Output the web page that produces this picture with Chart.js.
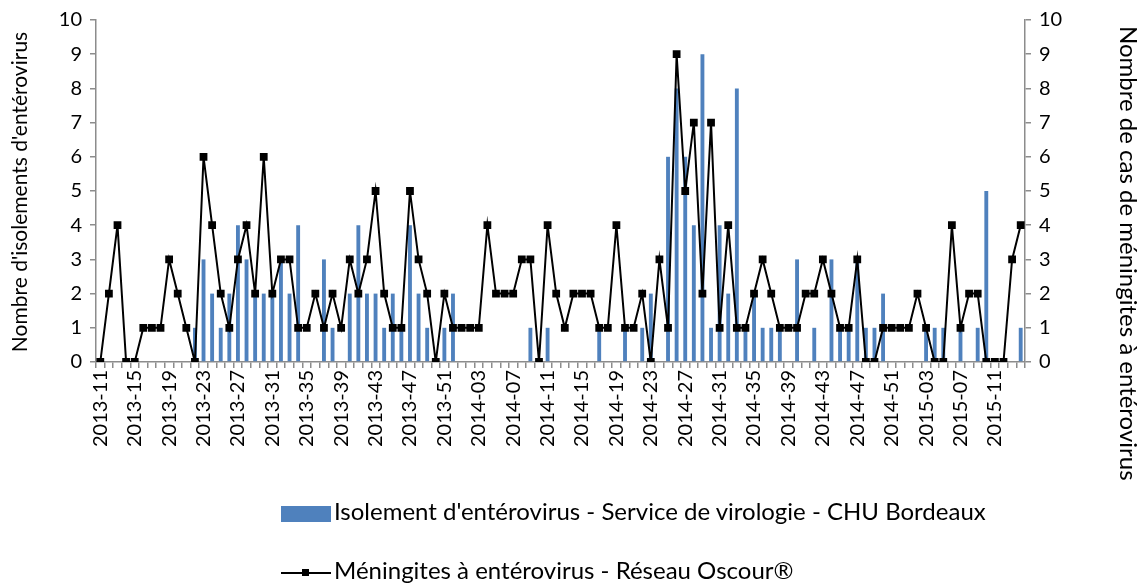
<!DOCTYPE html>
<html lang="fr">
<head>
<meta charset="utf-8">
<title>Entérovirus 2013-2015</title>
<script src="https://cdn.jsdelivr.net/npm/chart.js@4.4.1/dist/chart.umd.min.js"></script>
<style>
  html, body { margin: 0; padding: 0; background: #fff; }
  #cadre { position: relative; width: 1147px; height: 583px; font-family: Lato, "Open Sans", sans-serif; }
  #cadre canvas { position: absolute; left: 0; top: 0; }
  .legende { position: absolute; left: 281px; color: #000; font-size: 24px; line-height: 28px; white-space: nowrap; }
  .legende .boite { display: inline-block; width: 50px; height: 16px; background: #4f81bd; vertical-align: middle; margin-right: 3px; }
  .legende .trait { display: inline-block; position: relative; width: 50px; height: 16px; vertical-align: middle; margin-right: 3px; }
  .legende .trait::before { content: ""; position: absolute; left: 0; right: 0; top: 7px; height: 2px; background: #000; }
  .legende .trait::after { content: ""; position: absolute; left: 21px; top: 4px; width: 7px; height: 7px; background: #000; }
</style>
</head>
<body>
<div id="cadre">
  <canvas id="graphique" width="1147" height="583"></canvas>
  <div class="legende" style="top:497px"><span class="boite"></span><span>Isolement d'entérovirus - Service de virologie - CHU Bordeaux</span></div>
  <div class="legende" style="top:556px"><span class="trait"></span><span>Méningites à entérovirus - Réseau Oscour®</span></div>
</div>
<script>
// semaines 2013-11 à 2015-14
const semaines = [
  "2013-11","2013-12","2013-13","2013-14","2013-15","2013-16","2013-17","2013-18","2013-19","2013-20",
  "2013-21","2013-22","2013-23","2013-24","2013-25","2013-26","2013-27","2013-28","2013-29","2013-30",
  "2013-31","2013-32","2013-33","2013-34","2013-35","2013-36","2013-37","2013-38","2013-39","2013-40",
  "2013-41","2013-42","2013-43","2013-44","2013-45","2013-46","2013-47","2013-48","2013-49","2013-50",
  "2013-51","2013-52",
  "2014-01","2014-02","2014-03","2014-04","2014-05","2014-06","2014-07","2014-08","2014-09","2014-10",
  "2014-11","2014-12","2014-13","2014-14","2014-15","2014-16","2014-17","2014-18","2014-19","2014-20",
  "2014-21","2014-22","2014-23","2014-24","2014-25","2014-26","2014-27","2014-28","2014-29","2014-30",
  "2014-31","2014-32","2014-33","2014-34","2014-35","2014-36","2014-37","2014-38","2014-39","2014-40",
  "2014-41","2014-42","2014-43","2014-44","2014-45","2014-46","2014-47","2014-48","2014-49","2014-50",
  "2014-51","2014-52",
  "2015-01","2015-02","2015-03","2015-04","2015-05","2015-06","2015-07","2015-08","2015-09","2015-10",
  "2015-11","2015-12","2015-13","2015-14"
];

// isolements CHU Bordeaux (barres, axe de gauche)
const isolements = [
  0,0,0,0,0,0,0,0,0,0,0,1,3,2,1,2,4,3,
  2,2,2,3,2,4,0,0,3,1,0,2,4,2,2,1,2,1,
  4,2,1,0,1,2,0,0,0,0,0,0,0,0,1,0,1,
  0,0,0,0,0,1,0,0,1,0,1,2,0,6,8,6,4,9,
  1,4,2,8,1,2,1,1,1,0,3,0,1,0,3,1,1,
  3,1,1,2,0,0,0,0,1,1,1,0,1,0,1,5,0,0,0,1
];

// méningites Oscour (courbe, axe de droite)
const meningites = [
  0,2,4,0,0,1,1,1,3,2,1,0,6,4,2,1,3,4,
  2,6,2,3,3,1,1,2,1,2,1,3,2,3,5,2,1,1,
  5,3,2,0,2,1,1,1,1,4,2,2,2,3,3,0,4,
  2,1,2,2,2,1,1,4,1,1,2,0,3,1,9,5,7,2,
  7,1,4,1,1,2,3,2,1,1,1,2,2,3,2,1,1,
  3,0,0,1,1,1,1,2,1,0,0,4,1,2,2,0,0,0,3,4
];

const titreGauche = "Nombre d'isolements d'entérovirus";
const titreDroite = "Nombre de cas de méningites à entérovirus";

const police = "Lato";
const gris = "#8c8c8c";

// titres des axes, placés comme dans l'original
const titresAxes = {
  id: "titresAxes",
  afterDraw(chart) {
    const ctx = chart.ctx;
    ctx.save();
    ctx.fillStyle = "#000";
    ctx.textBaseline = "middle";

    ctx.save();
    ctx.font = `21px ${police}`;
    ctx.translate(20, 192);
    ctx.rotate(-Math.PI / 2);
    ctx.textAlign = "center";
    ctx.fillText(titreGauche, 0, 0);
    ctx.restore();

    ctx.save();
    ctx.font = `24px ${police}`;
    ctx.translate(1128, 26);
    ctx.rotate(Math.PI / 2);
    ctx.textAlign = "left";
    ctx.fillText(titreDroite, 0, 0);
    ctx.restore();

    ctx.restore();
  }
};

const axeY = (position, largeur) => ({
  type: "linear",
  position: position,
  min: 0,
  max: 10,
  ticks: { stepSize: 1, color: "#000", font: { family: police, size: 20 }, padding: 8 },
  grid: { drawOnChartArea: false, drawTicks: true, tickLength: 6, color: gris, lineWidth: 1.5 },
  border: { color: gris, width: 1.5 },
  afterFit: s => { s.width = largeur; }
});

new Chart(document.getElementById("graphique"), {
  type: "bar",
  data: {
    labels: semaines,
    datasets: [
      {
        type: "line",
        label: "Méningites à entérovirus - Réseau Oscour®",
        data: meningites,
        yAxisID: "y1",
        borderColor: "#000",
        borderWidth: 2,
        backgroundColor: "#000",
        pointStyle: "rect",
        pointRadius: 5.5,
        pointBackgroundColor: "#000",
        pointBorderColor: "#000",
        pointBorderWidth: 0,
        tension: 0,
        order: 1
      },
      {
        type: "bar",
        label: "Isolement d'entérovirus - Service de virologie - CHU Bordeaux",
        data: isolements,
        yAxisID: "y",
        backgroundColor: "#4f81bd",
        barPercentage: 0.45,
        categoryPercentage: 1,
        order: 2
      }
    ]
  },
  options: {
    responsive: false,
    animation: false,
    layout: { padding: { left: 40, right: 62, top: 17, bottom: 121 } },
    plugins: {
      legend: { display: false },
      tooltip: { enabled: false }
    },
    scales: {
      x: {
        type: "category",
        offset: true,
        grid: { offset: true, drawOnChartArea: false, drawTicks: true, tickLength: 6, color: gris, lineWidth: 1.5 },
        border: { color: gris, width: 1.5 },
        ticks: {
          autoSkip: false,
          maxRotation: 90,
          minRotation: 90,
          color: "#000",
          font: { family: police, size: 20 },
          padding: 2,
          callback: (v, i) => (i % 4 === 0 ? semaines[i] : "")
        },
        afterFit: s => { s.height = 100; }
      },
      y: axeY("left", 56),
      y1: axeY("right", 60)
    }
  },
  plugins: [titresAxes]
});
</script>
</body>
</html>
